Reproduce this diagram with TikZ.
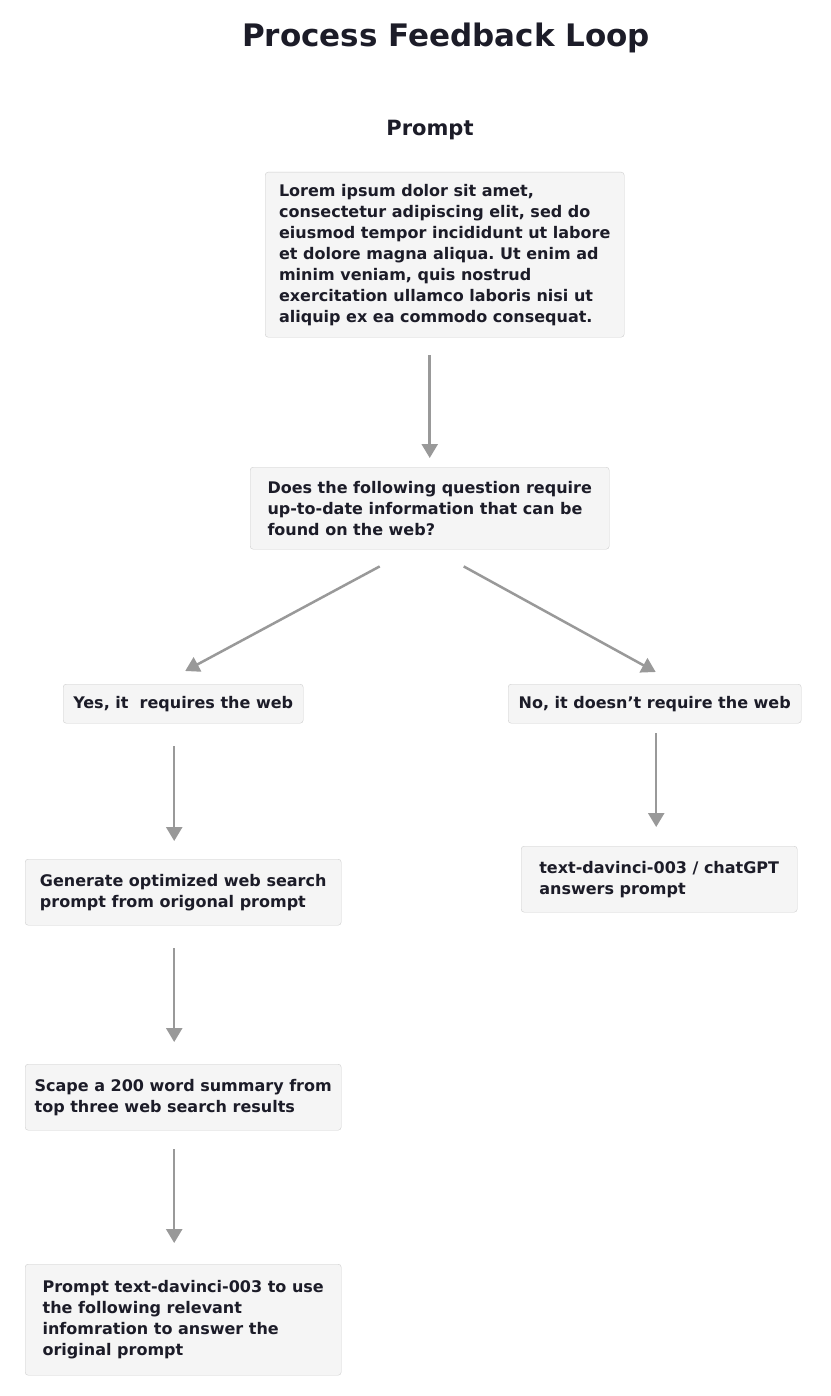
\documentclass[tikz,border=0pt]{standalone}
\usepackage{fontspec}
\setmainfont{DejaVu Sans}
\usepackage{xcolor}
\usepackage{tikz}
\usetikzlibrary{arrows.meta}
\usetikzlibrary{calc}
\definecolor{boxfill}{HTML}{F5F5F5}
\definecolor{boxline}{HTML}{CFCFCF}
\definecolor{flechegris}{HTML}{999999}
\definecolor{encre}{HTML}{1C1C28}
\def\width{830}
\def\hauteur{1396}
\frenchspacing
\tikzset{
	etape/.style={draw=boxline, fill=boxfill, rounded corners=3pt, anchor=north west, inner xsep=6pt, inner ysep=0pt, align=left, text=encre, font=\bfseries\fontsize{16}{21}\selectfont},
	fleche/.style={-{Triangle[width=16pt,length=14pt]}, color=flechegris, line width=2.5pt}
}

\begin{document}
\begin{tikzpicture}[x=1pt, y=-1pt]
	\useasboundingbox[fill=white] (0,0) rectangle (\width,\hauteur);
	%\draw[step=50, black!10] (0,0) grid (\width,\hauteur);
	\node[text=encre, font=\bfseries\fontsize{31}{36}\selectfont] (titre) at (446,38) {Process Feedback Loop};
	\node[text=encre, font=\bfseries\fontsize{21}{25}\selectfont] (invite) at (430,130) {Prompt};
	\node[etape, minimum width=359pt, minimum height=165pt] (lorem) at (265,172) {Lorem ipsum dolor sit amet,\\ consectetur adipiscing elit, sed do\\ eiusmod tempor incididunt ut labore\\ et dolore magna aliqua. Ut enim ad\\ minim veniam, quis nostrud\\ exercitation ullamco laboris nisi ut\\ aliquip ex ea commodo consequat.};
	\node[etape, minimum width=359pt, minimum height=82pt] (question) at (250,467) {Does the following question require\\ up-to-date information that can be\\ found on the web?};
	\node[etape, minimum width=240pt, minimum height=39pt] (oui) at (63,684) {Yes, it\ \ requires the web};
	\node[etape, minimum width=293pt, minimum height=39pt] (non) at (508,684) {No, it doesn’t require the web};
	\node[etape, minimum width=316pt, minimum height=66pt] (generer) at (25,859) {Generate optimized web search\\ prompt from origonal prompt};
	\node[etape, minimum width=316pt, minimum height=66pt] (scape) at (25,1064) {Scape a 200 word summary from\\ top three web search results};
	\node[etape, minimum width=316pt, minimum height=111pt] (final) at (25,1264) {Prompt text-davinci-003 to use\\ the following relevant\\ infomration to answer the\\ original prompt};
	\node[etape, minimum width=276pt, minimum height=66pt] (reponse) at (521,846) {text-davinci-003 / chatGPT\\ answers prompt};
	\draw[fleche] ($(lorem.south -| question.north)+(0,18)$) -- ($(question.north)+(0,-9)$);
	\draw[fleche] ($(question.south)+(-50,17)$) -- ($(oui.north)+(2,-13)$);
	\draw[fleche] ($(question.south)+(34,17)$) -- ($(non.north)+(1,-12)$);
	\draw[fleche] ($(oui.south)+(-9,23)$) -- ($(generer.north)+(-9,-18)$);
	\draw[fleche] ($(generer.south)+(-9,23)$) -- ($(scape.north)+(-9,-22)$);
	\draw[fleche] ($(scape.south)+(-9,19)$) -- ($(final.north)+(-9,-21)$);
	\draw[fleche] ($(non.south)+(1.5,10)$) -- ($(non.south |- reponse.north)+(1.5,-19)$);
\end{tikzpicture}
\end{document}
